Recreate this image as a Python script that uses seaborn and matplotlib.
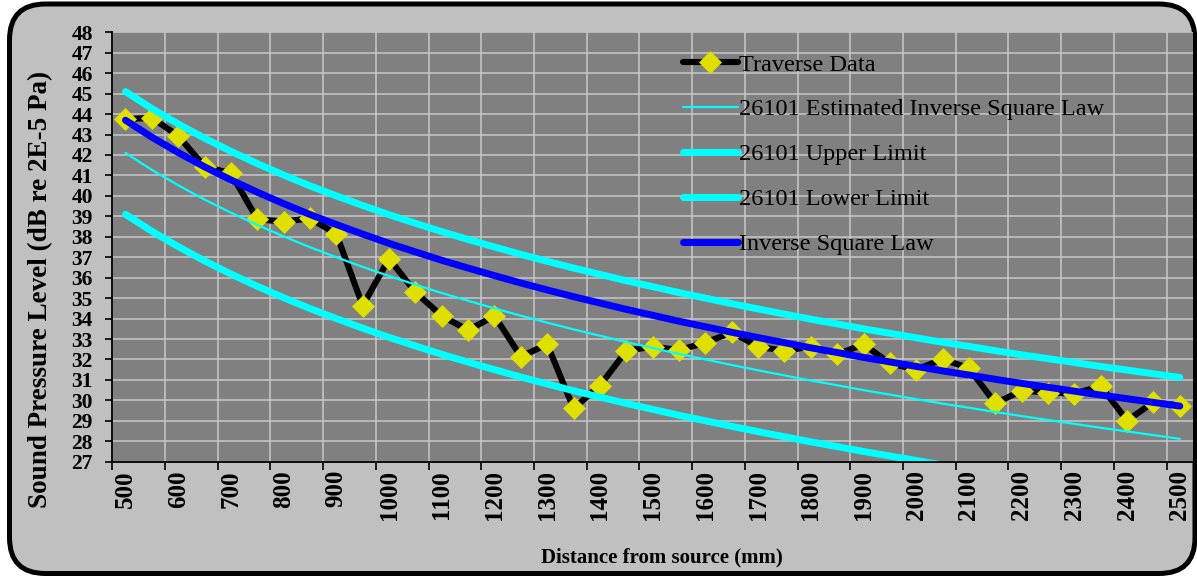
import numpy as np
import pandas as pd
import matplotlib
matplotlib.use("Agg")
import matplotlib.pyplot as plt
from matplotlib.patches import FancyBboxPatch
import seaborn as sns

# Measurement positions (mm from source)
distance_mm = [500, 550, 600, 650, 700, 750, 800, 850, 900, 950,
               1000, 1050, 1100, 1150, 1200, 1250, 1300, 1350, 1400, 1450,
               1500, 1550, 1600, 1650, 1700, 1750, 1800, 1850, 1900, 1950,
               2000, 2050, 2100, 2150, 2200, 2250, 2300, 2350, 2400, 2450, 2500]

# Measured sound pressure level along the traverse (dB)
traverse_db = [43.75, 43.82, 42.94, 41.43, 41.11, 38.86, 38.74, 38.90, 38.14, 34.63,
               36.93, 35.29, 34.13, 33.43, 34.13, 32.14, 32.74, 29.61, 30.72, 32.42,
               32.63, 32.46, 32.82, 33.33, 32.63, 32.42, 32.63, 32.25, 32.74, 31.81,
               31.50, 32.02, 31.57, 29.86, 30.47, 30.38, 30.33, 30.70, 29.01, 29.91, 29.73]

estimated_isl_db = [42.10, 41.27, 40.52, 39.82, 39.18, 38.58, 38.02, 37.49, 37.00, 36.53,
                    36.08, 35.66, 35.25, 34.87, 34.50, 34.14, 33.80, 33.47, 33.16, 32.85,
                    32.56, 32.27, 32.00, 31.73, 31.47, 31.22, 30.97, 30.74, 30.50, 30.28,
                    30.06, 29.84, 29.64, 29.43, 29.23, 29.04, 28.85, 28.66, 28.48, 28.30, 28.12]

upper_limit_db = [45.10, 44.27, 43.52, 42.82, 42.18, 41.58, 41.02, 40.49, 40.00, 39.53,
                  39.08, 38.66, 38.25, 37.87, 37.50, 37.14, 36.80, 36.47, 36.16, 35.85,
                  35.56, 35.27, 35.00, 34.73, 34.47, 34.22, 33.97, 33.74, 33.50, 33.28,
                  33.06, 32.84, 32.64, 32.43, 32.23, 32.04, 31.85, 31.66, 31.48, 31.30, 31.12]

lower_limit_db = [39.10, 38.27, 37.52, 36.82, 36.18, 35.58, 35.02, 34.49, 34.00, 33.53,
                  33.08, 32.66, 32.25, 31.87, 31.50, 31.14, 30.80, 30.47, 30.16, 29.85,
                  29.56, 29.27, 29.00, 28.73, 28.47, 28.22, 27.97, 27.74, 27.50, 27.28,
                  27.06, 26.84, 26.64, 26.43, 26.23, 26.04, 25.85, 25.66, 25.48, 25.30, 25.12]

inverse_square_db = [43.70, 42.87, 42.12, 41.42, 40.78, 40.18, 39.62, 39.09, 38.60, 38.13,
                     37.68, 37.26, 36.85, 36.47, 36.10, 35.74, 35.40, 35.07, 34.76, 34.45,
                     34.16, 33.87, 33.60, 33.33, 33.07, 32.82, 32.57, 32.34, 32.10, 31.88,
                     31.66, 31.44, 31.24, 31.03, 30.83, 30.64, 30.45, 30.26, 30.08, 29.90, 29.72]

x_tick_labels = [str(v) for v in range(500, 2501, 100)]
y_tick_values = list(range(27, 49))

series_labels = ["Traverse Data", "26101 Estimated Inverse Square Law",
                 "26101 Upper Limit", "26101 Lower Limit", "Inverse Square Law"]

df = pd.DataFrame({
    "distance": distance_mm,
    "traverse": traverse_db,
    "estimated": estimated_isl_db,
    "upper": upper_limit_db,
    "lower": lower_limit_db,
    "isl": inverse_square_db,
})

sns.set_style("darkgrid", {
    "axes.facecolor": "#808080",
    "grid.color": "#c8c8c8",
    "axes.edgecolor": "black",
    "text.color": "black",
    "xtick.color": "black",
    "ytick.color": "black",
})
plt.rcParams["font.family"] = ["Liberation Serif", "DejaVu Serif"]

W, H = 1197, 585
fig = plt.figure(figsize=(W / 100, H / 100), dpi=100)
fig.patch.set_facecolor("white")

# Rounded outer panel, kept behind the axes
panel = FancyBboxPatch((9.5 / W, 11.5 / H), (1195 - 9.5) / W, (581 - 11.5) / H,
                       boxstyle="round,pad=0,rounding_size=0.03",
                       transform=fig.transFigure, facecolor="#c0c0c0",
                       edgecolor="black", linewidth=3.6, mutation_aspect=W / H,
                       zorder=-10)
fig.patches.append(panel)

left, right, top, bottom = 112.3, 1193.0, 32.3, 461.7
ax = fig.add_axes([left / W, (H - bottom) / H, (right - left) / W, (bottom - top) / H])
ax.set_zorder(5)

sns.lineplot(data=df, x="distance", y="traverse", ax=ax, color="black",
             linewidth=4.4, marker="D", markersize=11.5, markerfacecolor="#e0e000",
             markeredgecolor="#e0e000", markeredgewidth=0.5, label=series_labels[0])
sns.lineplot(data=df, x="distance", y="estimated", ax=ax, color="#00ffff",
             linewidth=1.6, label=series_labels[1])
sns.lineplot(data=df, x="distance", y="upper", ax=ax, color="#00ffff",
             linewidth=5.0, solid_capstyle="round", label=series_labels[2])
sns.lineplot(data=df, x="distance", y="lower", ax=ax, color="#00ffff",
             linewidth=5.0, solid_capstyle="round", label=series_labels[3])
sns.lineplot(data=df, x="distance", y="isl", ax=ax, color="#0000ff",
             linewidth=5.0, solid_capstyle="round", label=series_labels[4])

# Category-style x axis: ticks and grid between categories, labels on them
ax.set_xlim(475, 2525)
ax.set_ylim(27, 48)
ax.set_xticks(np.arange(475, 2500, 100))
ax.set_xticklabels([])
ax.set_xticks(np.arange(500, 2501, 100), minor=True)
ax.set_xticklabels(x_tick_labels, minor=True, rotation=90, fontsize=18,
                   fontweight="bold")
ax.set_yticks(y_tick_values)
ax.set_yticklabels([str(v) for v in y_tick_values], fontsize=15.5, fontweight="bold")

ax.tick_params(axis="x", which="major", direction="out", length=6, width=1.2,
               color="black", bottom=True)
ax.tick_params(axis="x", which="minor", length=0, pad=6, bottom=True,
               labelcolor="black")
ax.tick_params(axis="y", direction="out", length=5, width=1.2, color="black",
               left=True, pad=9, labelcolor="black")
ax.grid(True, which="major", color="#c8c8c8", linewidth=1.1)
ax.grid(False, which="minor")

for side in ("top", "right"):
    ax.spines[side].set_visible(False)
for side in ("left", "bottom"):
    ax.spines[side].set_visible(True)
    ax.spines[side].set_color("black")
    ax.spines[side].set_linewidth(1.3)

ax.set_xlabel("")
ax.set_ylabel("")
fig.text(41 / W, 1 - 289 / H, "Sound Pressure Level (dB re 2E-5 Pa)",
         rotation=90, ha="center", va="center", fontsize=19.5, fontweight="bold",
         color="black")
fig.text(661.5 / W, 1 - 557 / H, "Distance from source (mm)",
         ha="center", va="center", fontsize=15, fontweight="bold", color="black")

leg = ax.legend(loc="upper left", bbox_to_anchor=(0.519, 0.973), frameon=False,
                fontsize=17.5, handlelength=2.25, handletextpad=0.05,
                labelspacing=0.94, borderaxespad=0)
for t in leg.get_texts():
    t.set_color("black")

fig.savefig("out.png", dpi=100)
